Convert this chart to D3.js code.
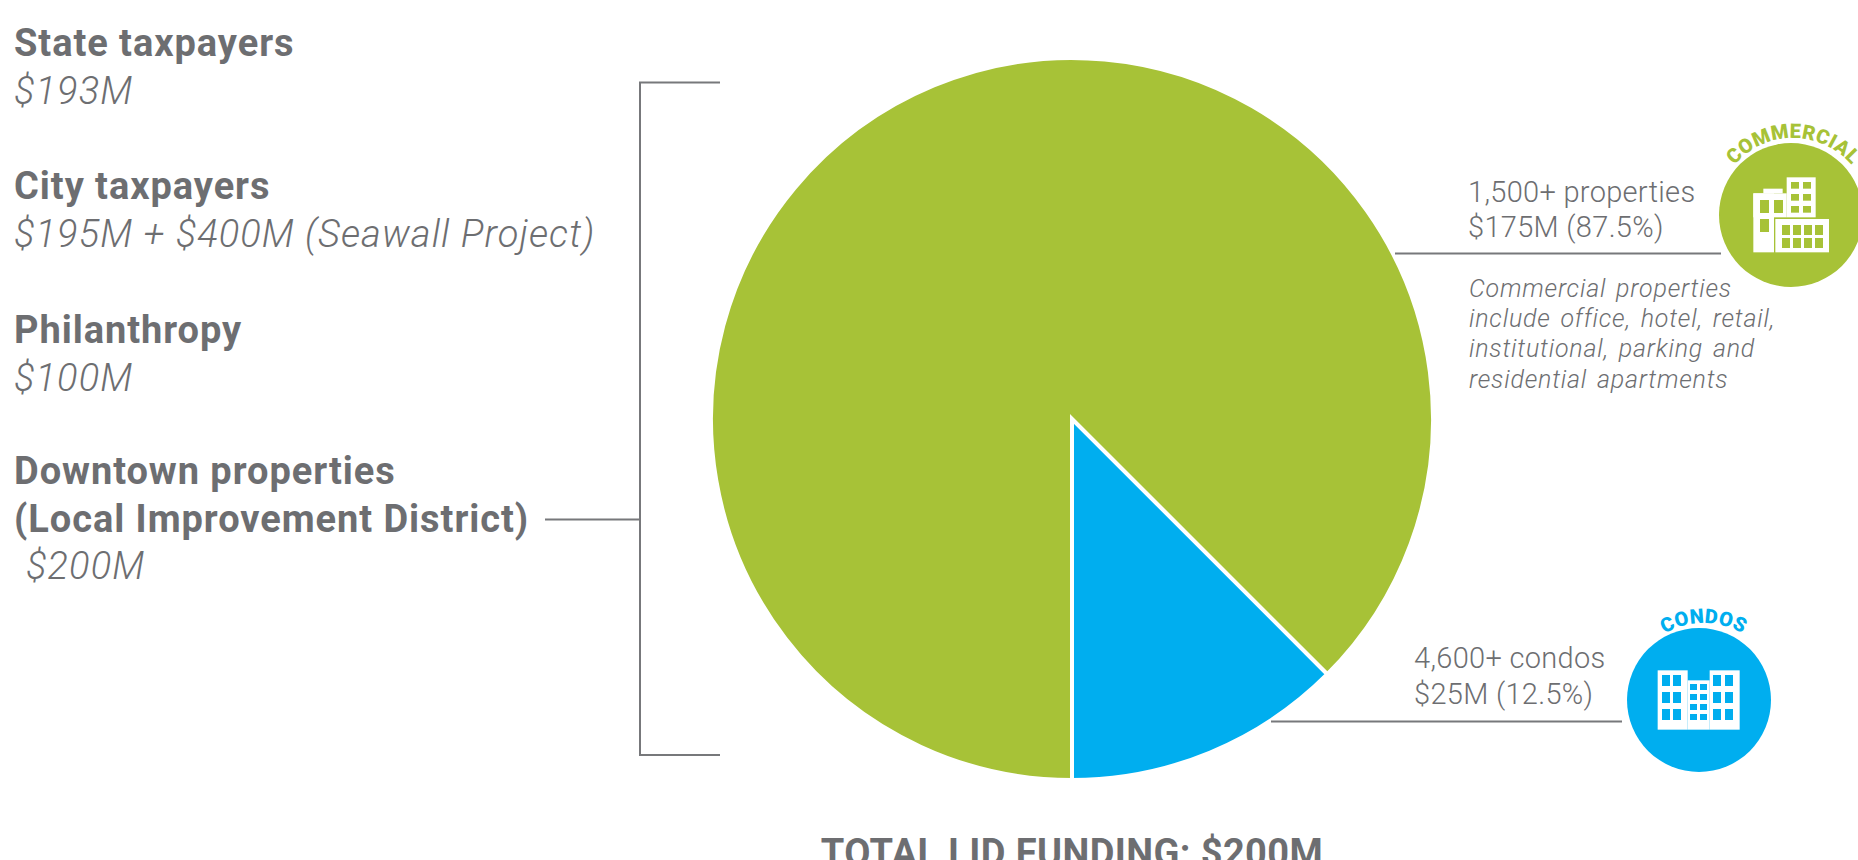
<!DOCTYPE html>
<html>
<head>
<meta charset="utf-8">
<script src="https://cdn.jsdelivr.net/npm/d3@7"></script>
<style>
  html, body { margin: 0; padding: 0; background: #fff; overflow: hidden; }
  svg { display: block; }
  text { font-family: Roboto, sans-serif; fill: #6d6e71; }
  .head { font-size: 38px; font-weight: 700; letter-spacing: 0.95px; }
  .amount { font-size: 38px; font-weight: 300; font-style: italic; letter-spacing: 1.1px; }
  .stat { font-size: 29px; font-weight: 300; letter-spacing: 0.3px; }
  .note { font-size: 25px; font-weight: 300; font-style: italic; letter-spacing: 0.8px; word-spacing: 3px; }
  .total { font-size: 38px; font-weight: 700; letter-spacing: 0.4px; }
  .badge { font-size: 20px; font-weight: 900; letter-spacing: 0.3px; }
  .rule { stroke: #77787b; stroke-width: 2; fill: none; }
</style>
</head>
<body>
<script>
// Downtown funding sources
const funderNames = [
  ["State taxpayers"],
  ["City taxpayers"],
  ["Philanthropy"],
  ["Downtown properties", "(Local Improvement District)"]
];
const funderAmounts = ["$193M", "$195M + $400M (Seawall Project)", "$100M", "$200M"];

// Local Improvement District split
const segments = ["Commercial", "Condos"];
const segmentFunding = [175, 25];
const segmentCounts = ["1,500+ properties", "4,600+ condos"];
const segmentColors = ["#a7c237", "#00aeef"];
const badgeLabels = ["COMMERCIAL", "CONDOS"];
const commercialNote = [
  "Commercial properties",
  "include office, hotel, retail,",
  "institutional, parking and",
  "residential apartments"
];
const totalLabel = "TOTAL LID FUNDING: $200M";

const width = 1858, height = 860;
const svg = d3.select("body").append("svg").attr("width", width).attr("height", height);

// Funder list on the left
const list = svg.append("g");
const headBaselines = [56, 199, 342.5, 484];
const lineStep = 48;
funderNames.forEach((lines, i) => {
  lines.forEach((line, j) => {
    list.append("text").attr("class", "head")
      .attr("x", 14).attr("y", headBaselines[i] + j * lineStep).text(line);
  });
  list.append("text").attr("class", "amount")
    .attr("x", i === 3 ? 26 : 14)
    .attr("y", headBaselines[i] + lines.length * lineStep - (i === 3 ? 1 : 0))
    .text(funderAmounts[i]);
});

// Bracket tying the LID row to the pie
const bracket = d3.path();
bracket.moveTo(720, 82.5); bracket.lineTo(640, 82.5); bracket.lineTo(640, 755); bracket.lineTo(720, 755);
bracket.moveTo(545, 519.5); bracket.lineTo(640, 519.5);
svg.append("path").attr("class", "rule").attr("d", bracket.toString());

// Pie: commercial sweeps clockwise from six o'clock, condos close the circle
const cx = 1072, cy = 419, radius = 361;
const pie = d3.pie().sort(null).startAngle(Math.PI).endAngle(3 * Math.PI);
const arc = d3.arc().innerRadius(0).outerRadius(radius);
svg.append("g").attr("transform", `translate(${cx},${cy})`)
  .selectAll("path").data(pie(segmentFunding)).join("path")
  .attr("d", arc)
  .attr("fill", (d, i) => segmentColors[i])
  .attr("stroke", "#fff").attr("stroke-width", 4).attr("stroke-linejoin", "miter");

// Leader rules from the pie to the badges
const leaders = [[1395, 1721, 253.5], [1271, 1622, 721.5]];
svg.selectAll(".leader").data(leaders).join("line")
  .attr("class", "rule leader")
  .attr("x1", d => d[0]).attr("x2", d => d[1])
  .attr("y1", d => d[2]).attr("y2", d => d[2]);

// Segment statistics, built from the funding values
const total = d3.sum(segmentFunding);
const statX = [1468, 1414], statY = [201.5, 668];
segments.forEach((s, i) => {
  svg.append("text").attr("class", "stat").attr("x", statX[i]).attr("y", statY[i]).text(segmentCounts[i]);
  svg.append("text").attr("class", "stat").attr("x", statX[i]).attr("y", statY[i] + 35.5)
    .text(`$${segmentFunding[i]}M (${d3.format(".1f")(segmentFunding[i] / total * 100)}%)`);
});
commercialNote.forEach((line, i) => {
  svg.append("text").attr("class", "note").attr("x", 1469).attr("y", 297 + i * 30.2).text(line);
});

// Round badges with curved captions
const badges = [
  { cx: 1791, cy: 215, r: 72, shift: 2 },
  { cx: 1699, cy: 700, r: 72, shift: 4.5 }
];
const defs = svg.append("defs");
badges.forEach((b, i) => {
  svg.append("circle").attr("cx", b.cx).attr("cy", b.cy).attr("r", b.r).attr("fill", segmentColors[i]);
  const p = d3.path();
  p.arc(b.cx + b.shift, b.cy, b.r + 5, Math.PI, 2 * Math.PI);
  defs.append("path").attr("id", `badge-arc-${i}`).attr("d", p.toString());
  svg.append("text").attr("class", "badge").style("fill", segmentColors[i])
    .append("textPath").attr("href", `#badge-arc-${i}`)
    .attr("startOffset", "50%").attr("text-anchor", "middle").text(badgeLabels[i]);
});

// Draws an icon from rectangles given in a 3x grid anchored at (ox, oy)
function iconRects(rects, ox, oy, fill) {
  svg.append("g").selectAll("rect").data(rects).join("rect")
    .attr("x", d => ox + d[0] / 3).attr("y", d => oy + d[2] / 3)
    .attr("width", d => (d[1] - d[0]) / 3).attr("height", d => (d[3] - d[2]) / 3)
    .attr("fill", fill);
}
function grid(xs, ys) {
  return d3.cross(xs, ys).map(([x, y]) => [x[0], x[1], y[0], y[1]]);
}

// Office block icon
const [green, blue] = segmentColors;
iconRects([[160, 260, 250, 322], [160, 222, 250, 427], [190, 248, 236, 250], [260, 347, 202, 322], [226, 387, 327, 427]], 1700, 110, "#fff");
iconRects([
  ...grid([[180, 207], [222, 249]], [[270, 309]]),
  [180, 207, 327, 366],
  ...grid([[273, 297], [309, 333]], [[216, 236], [252, 272], [288, 308]]),
  ...grid([[246, 270], [279, 303], [312, 336], [345, 369]], [[345, 375], [384, 414]])
], 1700, 110, green);

// Condo block icon
iconRects([[113, 203, 211, 389], [269, 359, 211, 389], [203, 269, 241, 389]], 1620, 600, "#fff");
iconRects([
  ...grid([[126, 150], [159, 183], [279, 303], [315, 339]], [[225, 258], [276, 309], [327, 360]]),
  ...grid([[210, 231], [240, 261]], [[252, 270], [282, 300], [312, 330], [342, 360]])
], 1620, 600, blue);

// Total caption, running off the bottom edge
svg.append("text").attr("class", "total").attr("x", cx).attr("y", 866)
  .attr("text-anchor", "middle").text(totalLabel);
</script>
</body>
</html>
